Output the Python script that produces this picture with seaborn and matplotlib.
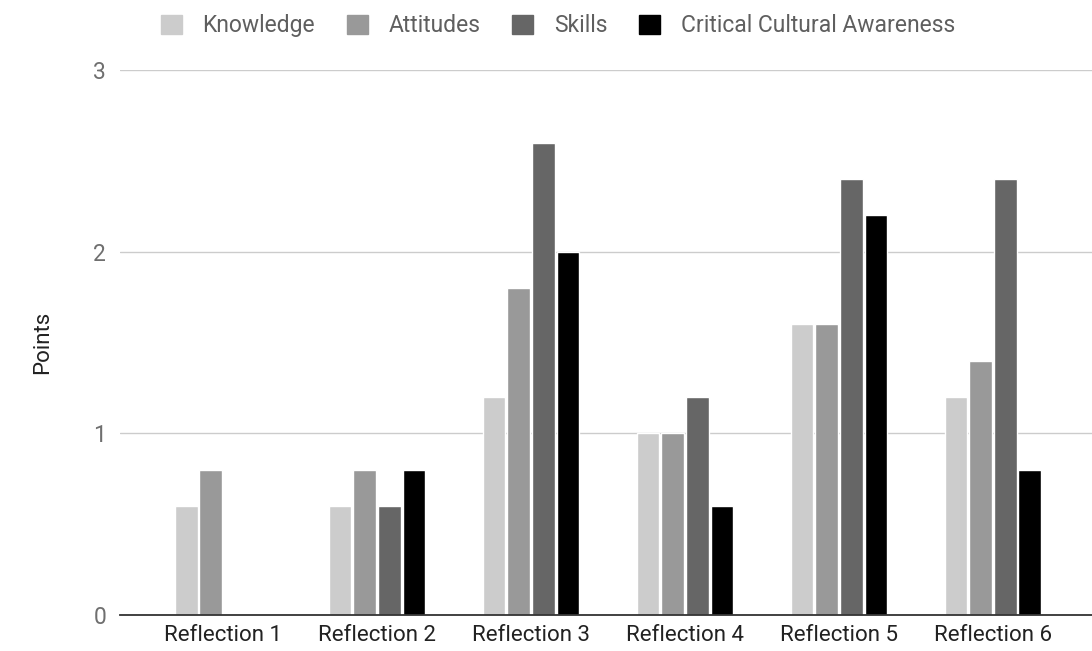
import pandas as pd
import matplotlib.pyplot as plt
import seaborn as sns

categories = ['Reflection 1', 'Reflection 2', 'Reflection 3',
              'Reflection 4', 'Reflection 5', 'Reflection 6']
series = ['Knowledge', 'Attitudes', 'Skills', 'Critical Cultural Awareness']
knowledge = [0.6, 0.6, 1.2, 1.0, 1.6, 1.2]
attitudes = [0.8, 0.8, 1.8, 1.0, 1.6, 1.4]
skills = [0, 0.6, 2.6, 1.2, 2.4, 2.4]
awareness = [0, 0.8, 2.0, 0.6, 2.2, 0.8]
colors = ['#cccccc', '#999999', '#666666', '#000000']

df = pd.DataFrame({
    'Reflection': categories * 4,
    'Component': [s for s in series for _ in categories],
    'Points': knowledge + attitudes + skills + awareness,
})

sns.set_style('white')
plt.rcParams['font.family'] = ['Roboto', 'DejaVu Sans']

fig = plt.figure(figsize=(10.92, 6.51), dpi=100)
ax = fig.add_axes([120 / 1092, 36 / 651, 976 / 1092, 545 / 651])

sns.barplot(data=df, x='Reflection', y='Points', hue='Component',
            palette=colors, width=0.64, gap=0.08, ax=ax, legend=False,
            saturation=1)

ax.set_xlim(-0.67, 5.67)
ax.set_ylim(0, 3)
ax.set_yticks([0, 1, 2, 3])
ax.yaxis.grid(True, color='#cccccc', linewidth=1)
ax.set_axisbelow(True)
for s in ['top', 'right', 'left']:
    ax.spines[s].set_visible(False)
ax.spines['bottom'].set_color('#333333')
ax.spines['bottom'].set_linewidth(1.3)
ax.tick_params(axis='y', length=0, labelsize=16.5, labelcolor='#6f6f6f', pad=10)
ax.tick_params(axis='x', length=0, labelsize=16, labelcolor='#222222', pad=7)
ax.set_xlabel('')
ax.set_ylabel('Points', fontsize=16, color='#222222', labelpad=29)

handles = [plt.Rectangle((0, 0), 1, 1, color=c) for c in colors]
fig.legend(handles, series, loc='upper center', bbox_to_anchor=(0.511, 1.01),
           ncol=4, frameon=False, fontsize=16.5, labelcolor='#5f5f5f',
           handlelength=0.9, handleheight=0.9, handletextpad=0.9,
           columnspacing=1.4)

fig.savefig('out.png', dpi=100)
